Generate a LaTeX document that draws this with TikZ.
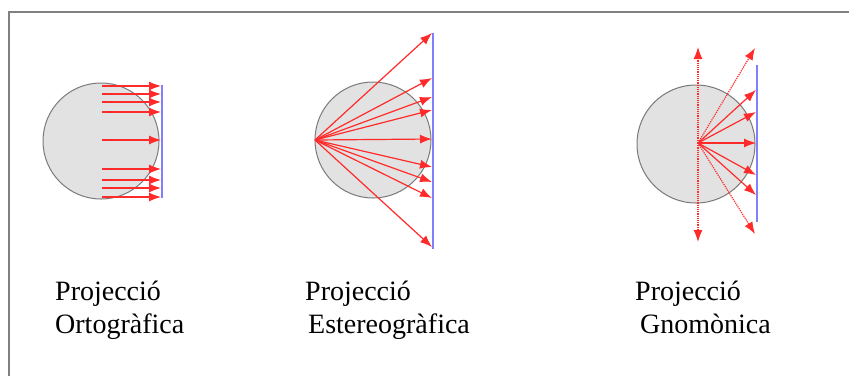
\documentclass[tikz,border=0pt]{standalone}
\usepackage{fontspec}
\setmainfont{Liberation Serif}
\usetikzlibrary{arrows.meta}
\definecolor{framegray}{HTML}{808080}
\definecolor{globefill}{HTML}{E2E2E2}
\definecolor{globeedge}{HTML}{7A7A7A}
\definecolor{rayred}{HTML}{FF2A2A}
\definecolor{planeblue}{HTML}{8080FF}
\tikzset{
  globe/.style={circle, draw=globeedge, line width=1pt, fill=globefill, inner sep=0pt, minimum size=#1},
  ray/.style={draw=rayred, line width=1.2pt, -{Latex[length=12pt,width=9pt]}},
  dray/.style={ray, densely dotted},
  plane/.style={draw=planeblue, line width=2pt},
  caption/.style={font=\fontsize{28}{33}\selectfont, align=left, anchor=base west, inner sep=0pt}
}
\begin{document}
\begin{tikzpicture}[x=1pt,y=-1pt]
\useasboundingbox (0,0) rectangle (849,376);
\fill[white] (0,0) rectangle (849,376);
\draw[framegray, line width=2pt] (9,376) -- (9,12) -- (849,12);

% Orthographic
\node[globe=116pt] (g1) at (101,141) {};
\coordinate (p1a) at (162,85);
\coordinate (p1b) at (162,198);
\draw[plane] (p1a) -- (p1b);
\foreach \y [count=\i] in {86,94,102,112,140,169,180,188,197}{
  \coordinate (s1\i) at (102,\y);
  \coordinate (e1\i) at (161,\y);
  \draw[ray] (s1\i) -- (e1\i);
}

% Stereographic
\node[globe=116pt] (g2) at (373,140) {};
\coordinate (o2) at (315,140);
\coordinate (p2a) at (433,33);
\coordinate (p2b) at (433,249);
\draw[plane] (p2a) -- (p2b);
\foreach \y [count=\i] in {33,78,97,110,139,167,182,198,247}{
  \coordinate (e2\i) at (432,\y);
  \draw[ray] (o2) -- (e2\i);
}

% Gnomonic
\node[globe=118pt] (g3) at (696,144) {};
\coordinate (o3) at (698,143);
\coordinate (p3a) at (757,65);
\coordinate (p3b) at (757,222);
\draw[plane] (p3a) -- (p3b);
\coordinate (up3) at (698,47);
\coordinate (dn3) at (698,242);
\coordinate (tr3) at (755,48);
\coordinate (br3) at (755,234);
\draw[dray] (o3) -- (up3);
\draw[dray] (o3) -- (dn3);
\draw[dray] (o3) -- (tr3);
\draw[dray] (o3) -- (br3);
\foreach \y [count=\i] in {90,112,143,175,195}{
  \coordinate (e3\i) at (756,\y);
  \draw[ray] (o3) -- (e3\i);
}

% Captions
\node[caption] (c1a) at (55,300) {Projecció};
\node[caption] (c1b) at (55,333) {Ortogràfica};
\node[caption] (c2a) at (305,300) {Projecció};
\node[caption] (c2b) at (308,333) {Estereogràfica};
\node[caption] (c3a) at (635,300) {Projecció};
\node[caption] (c3b) at (640,333) {Gnomònica};
\end{tikzpicture}
\end{document}
